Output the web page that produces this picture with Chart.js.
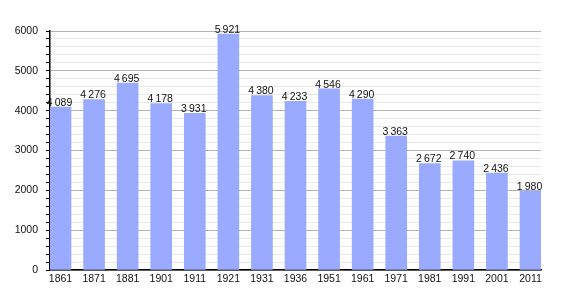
<!DOCTYPE html>
<html><head><meta charset="utf-8">
<script src="https://cdn.jsdelivr.net/npm/chart.js@4/dist/chart.umd.min.js"></script>
<style>html,body{margin:0;padding:0;background:#fff}#wrap{width:570px;height:300px}</style>
</head><body><div id="wrap"><canvas id="c" width="570" height="300"></canvas></div>
<script>
const years = ["1861","1871","1881","1901","1911","1921","1931","1936","1951","1961","1971","1981","1991","2001","2011"];
const population = [4089,4276,4695,4178,3931,5921,4380,4233,4546,4290,3363,2672,2740,2436,1980];
const yMax = 6000;
const yStep = 200;
const yLabelStep = 1000;

function fmt(v){const s=String(v);return s.length>3? s.slice(0,s.length-3)+"\u2009"+s.slice(-3):s;}

const valueLabels = {
  id:'valueLabels',
  afterDatasetsDraw(chart){
    const ctx=chart.ctx; const meta=chart.getDatasetMeta(0);
    ctx.save(); ctx.font='10.5px "Liberation Sans", Arial, sans-serif'; ctx.fillStyle='#111';
    ctx.textAlign='center'; ctx.textBaseline='bottom';
    meta.data.forEach((el,i)=>{ ctx.fillText(fmt(population[i]), el.x-1, el.y+1); });
    ctx.restore();
  }
};

new Chart(document.getElementById('c'),{
  type:'bar',
  data:{datasets:[{data:population.map((v,i)=>({x:i,y:v})),backgroundColor:'rgb(153,170,255)',barThickness:21,borderWidth:0}]},
  options:{
    responsive:false, animation:false,
    layout:{padding:{top:31,right:29,left:0,bottom:0}},
    plugins:{legend:{display:false},tooltip:{enabled:false}},
    scales:{
      x:{type:'linear',min:-0.313,max:14.313,offset:false,
        afterBuildTicks(s){s.ticks=years.map((y,i)=>({value:i}));},
        afterFit(s){s.height=30;},
        ticks:{autoSkip:false,maxRotation:0,padding:3,color:'#111',font:{family:'"Liberation Sans", Arial, sans-serif',size:10.5},callback:(v)=>years[v]},
        grid:{display:true,color:'rgba(0,0,0,0)',drawTicks:false},
        border:{display:true,color:'#000',width:1.5}
      },
      y:{min:0,max:yMax,
        afterFit(s){s.width=50;},
        ticks:{stepSize:yStep,autoSkip:false,padding:8,color:'#111',font:{family:'"Liberation Sans", Arial, sans-serif',size:10.5},
          callback:(v)=> v%yLabelStep===0? String(v):''},
        grid:{drawTicks:true,tickLength:4,tickColor:'#000',
          color:(c)=> (c.tick && c.tick.value%yLabelStep===0)? '#b4b4b4':'#e8e8e8',lineWidth:1},
        border:{display:true,color:'#000',width:1.5}
      }
    }
  },
  plugins:[valueLabels]
});
</script></body></html>
